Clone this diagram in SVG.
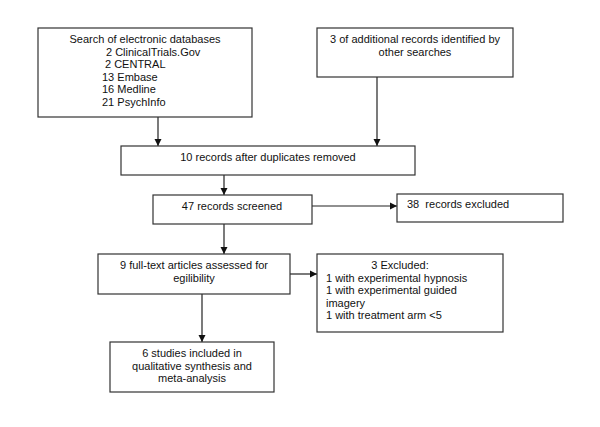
<svg xmlns="http://www.w3.org/2000/svg" width="600" height="427" viewBox="0 0 600 427">
<style>
.box{fill:#fff;stroke:#333;stroke-width:1.2}
.t{font-family:"Liberation Sans",Arial,sans-serif;font-size:11px;fill:#111}
.c{text-anchor:middle}
.ln{stroke:#222;stroke-width:1.2;fill:none}
</style>
<defs>
<marker id="ah" markerWidth="8" markerHeight="8" refX="7" refY="4" orient="auto" markerUnits="userSpaceOnUse">
<path d="M0,0.5 L7,4 L0,7.5 Z" fill="#111"/>
</marker>
</defs>
<rect width="600" height="427" fill="#fff"/>
<g id="connectors">
<line class="ln" x1="158" y1="117" x2="158" y2="146" marker-end="url(#ah)"/>
<line class="ln" x1="377" y1="77" x2="377" y2="146" marker-end="url(#ah)"/>
<line class="ln" x1="224" y1="175" x2="224" y2="195" marker-end="url(#ah)"/>
<line class="ln" x1="312" y1="206" x2="397" y2="206" marker-end="url(#ah)"/>
<line class="ln" x1="224" y1="224" x2="224" y2="254" marker-end="url(#ah)"/>
<line class="ln" x1="290" y1="274" x2="317" y2="274" marker-end="url(#ah)"/>
<line class="ln" x1="202" y1="294" x2="202" y2="342" marker-end="url(#ah)"/>
</g>
<g id="n1">
<rect class="box" x="38" y="28" width="214" height="89"/>
<text class="t c" x="145" y="43">Search of electronic databases</text>
<text class="t" x="106" y="55.5">2 ClinicalTrials.Gov</text>
<text class="t" x="105" y="68">2 CENTRAL</text>
<text class="t" x="102" y="80.5">13 Embase</text>
<text class="t" x="102" y="93">16 Medline</text>
<text class="t" x="102" y="105.5">21 PsychInfo</text>
</g>
<g id="n2">
<rect class="box" x="317" y="28" width="196" height="49"/>
<text class="t c" x="415" y="43">3 of additional records identified by</text>
<text class="t c" x="415" y="56">other searches</text>
</g>
<g id="n3">
<rect class="box" x="121" y="146" width="294" height="29"/>
<text class="t c" x="268" y="161">10 records after duplicates removed</text>
</g>
<g id="n4">
<rect class="box" x="153" y="195" width="159" height="29"/>
<text class="t c" x="232" y="210">47 records screened</text>
</g>
<g id="n5">
<rect class="box" x="397" y="194" width="166" height="28"/>
<text class="t" x="407" y="208" xml:space="preserve">38  records excluded</text>
</g>
<g id="n6">
<rect class="box" x="98" y="254" width="192" height="40"/>
<text class="t c" x="194" y="269">9 full-text articles assessed for</text>
<text class="t c" x="194" y="282">egilibility</text>
</g>
<g id="n7">
<rect class="box" x="317" y="254" width="186" height="78"/>
<text class="t c" x="400" y="269">3 Excluded:</text>
<text class="t" x="326" y="281.5">1 with experimental hypnosis</text>
<text class="t" x="326" y="294">1 with experimental guided</text>
<text class="t" x="326" y="306.5">imagery</text>
<text class="t" x="326" y="319">1 with treatment arm &lt;5</text>
</g>
<g id="n8">
<rect class="box" x="110" y="342" width="164" height="50"/>
<text class="t c" x="192" y="357">6 studies included in</text>
<text class="t c" x="192" y="370">qualitative synthesis and</text>
<text class="t c" x="192" y="382">meta-analysis</text>
</g>
</svg>
